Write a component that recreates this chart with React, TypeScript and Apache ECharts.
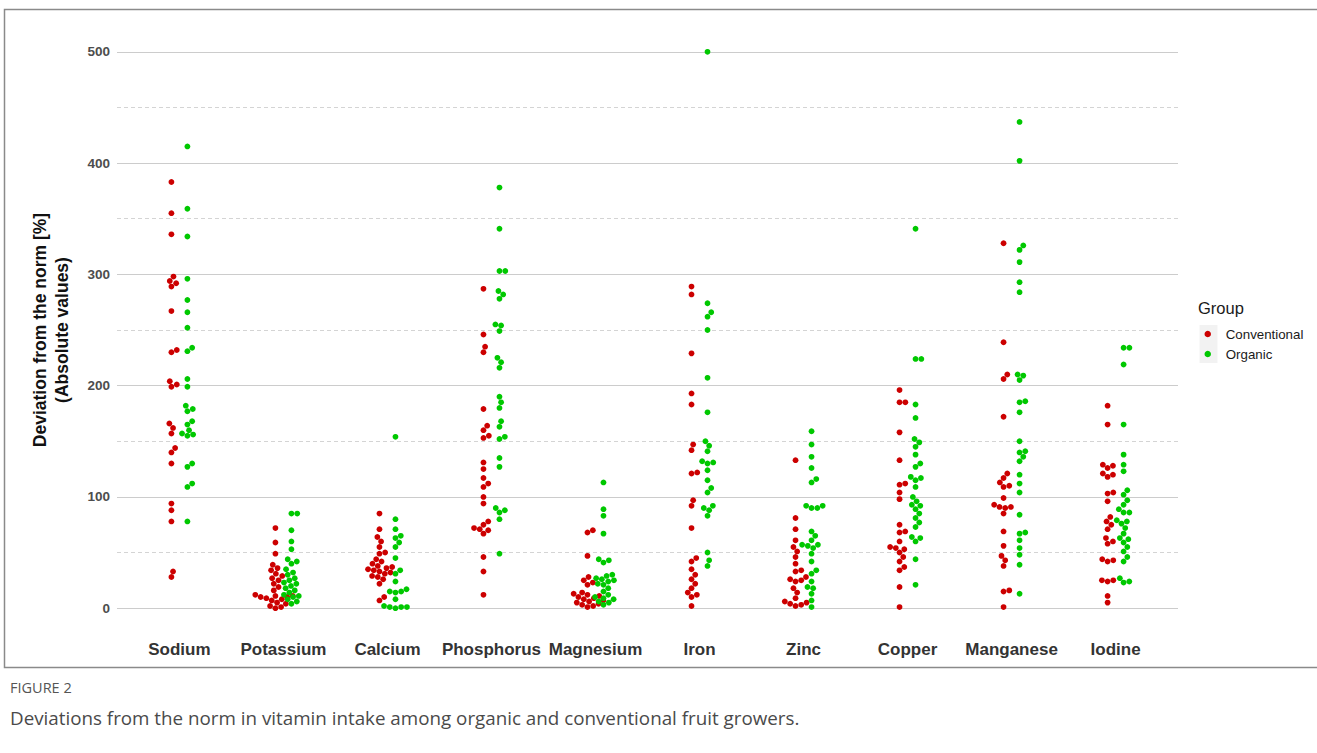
import React, { useEffect, useRef } from 'react';
import * as echarts from 'echarts';

// ---------------- data ----------------
const CATEGORIES = ['Sodium', 'Potassium', 'Calcium', 'Phosphorus', 'Magnesium', 'Iron', 'Zinc', 'Copper', 'Manganese', 'Iodine'];
const GROUPS = ['Conventional', 'Organic'];
const Y_TICKS = [0, 100, 200, 300, 400, 500];
const Y_MINOR = [50, 150, 250, 350, 450];

const sodiumConv = [383, 355, 336, 298, 294, 292, 289, 267, 232, 230, 204, 201, 199, 166, 162, 157, 144, 140, 130, 94, 88, 78, 33, 28];
const sodiumOrg = [415, 359, 334, 296, 277, 266, 252, 234, 231, 206, 199, 182, 179, 177, 168, 165, 160, 157, 156, 155, 130, 127, 112, 109, 78];
const potassiumConv = [72, 59, 49, 39, 36, 34, 31, 29, 27, 25, 22, 19, 16, 12, 11, 11, 10, 10, 9, 8, 7, 5, 4, 2, 1, 0];
const potassiumOrg = [85, 85, 70, 60, 53, 44, 42, 40, 35, 32, 30, 27, 25, 23, 22, 20, 18, 16, 14, 12, 11, 10, 8, 6, 4];
const calciumConv = [85, 71, 64, 60, 55, 50, 49, 44, 42, 40, 38, 37, 36, 35, 34, 33, 32, 31, 29, 28, 26, 22, 10, 7];
const calciumOrg = [154, 80, 71, 65, 63, 59, 55, 45, 34, 31, 24, 17, 15, 15, 14, 8, 2, 1, 1, 1, 0];
const phosphorusConv = [287, 246, 235, 230, 179, 164, 160, 155, 153, 131, 125, 117, 112, 109, 100, 94, 78, 75, 72, 71, 70, 67, 46, 33, 12];
const phosphorusOrg = [378, 341, 303, 303, 285, 282, 278, 255, 254, 249, 225, 221, 216, 190, 185, 180, 168, 163, 154, 152, 135, 127, 90, 88, 86, 80, 49];
const magnesiumConv = [70, 68, 47, 28, 25, 23, 21, 14, 13, 12, 11, 10, 9, 8, 7, 6, 5, 4, 3, 2, 1];
const magnesiumOrg = [113, 89, 83, 67, 44, 43, 41, 30, 29, 27, 26, 25, 24, 22, 21, 18, 15, 12, 10, 9, 8, 6, 5, 3];
const ironConv = [289, 282, 229, 193, 183, 147, 142, 122, 121, 97, 92, 72, 45, 42, 35, 30, 26, 22, 18, 14, 12, 10, 2];
const ironOrg = [500, 274, 266, 262, 250, 207, 176, 150, 146, 141, 132, 131, 130, 124, 115, 108, 104, 92, 90, 88, 83, 50, 43, 38];
const zincConv = [133, 81, 71, 61, 55, 51, 46, 40, 34, 33, 28, 26, 25, 24, 18, 14, 9, 6, 5, 4, 3, 2];
const zincOrg = [159, 147, 136, 126, 116, 113, 92, 92, 90, 90, 69, 65, 61, 57, 57, 56, 54, 49, 42, 34, 31, 24, 19, 18, 13, 7, 1];
const copperConv = [196, 185, 185, 158, 133, 112, 111, 104, 98, 75, 69, 68, 60, 55, 54, 53, 50, 46, 42, 37, 34, 19, 1];
const copperOrg = [341, 224, 224, 183, 171, 152, 149, 145, 138, 130, 127, 118, 117, 115, 109, 100, 96, 93, 92, 89, 85, 81, 77, 73, 64, 63, 60, 44, 21];
const manganeseConv = [328, 239, 210, 206, 172, 121, 117, 113, 110, 109, 99, 93, 91, 91, 90, 85, 69, 56, 47, 43, 38, 16, 15, 1];
const manganeseOrg = [437, 402, 326, 322, 311, 293, 284, 210, 209, 205, 186, 185, 176, 150, 141, 140, 136, 132, 120, 112, 104, 84, 68, 67, 61, 54, 48, 39, 13];
const iodineConv = [182, 165, 129, 128, 126, 121, 120, 118, 104, 103, 96, 82, 78, 75, 71, 63, 60, 58, 44, 43, 42, 25, 25, 24, 11, 5];
const iodineOrg = [234, 234, 219, 165, 138, 129, 123, 106, 102, 97, 93, 89, 86, 86, 79, 78, 76, 72, 67, 63, 62, 59, 55, 51, 46, 42, 27, 24, 23];

const conventionalValues = [sodiumConv, potassiumConv, calciumConv, phosphorusConv, magnesiumConv, ironConv, zincConv, copperConv, manganeseConv, iodineConv];
const organicValues = [sodiumOrg, potassiumOrg, calciumOrg, phosphorusOrg, magnesiumOrg, ironOrg, zincOrg, copperOrg, manganeseOrg, iodineOrg];

// ---------------- layout ----------------
const W = 1317;
const H = 753;
const GRID_LEFT = 117;
const GRID_RIGHT_EDGE = 1178;
const GRID_TOP = 24;
const GRID_BOTTOM_EDGE = 636;
const X_MIN = -0.6;
const X_MAX = 9.6;
const Y_MIN = -25;
const Y_MAX = 525;
const DODGE_PX = 8;
const DOT = 5.8;
const RED = '#cc0000';
const GREEN = '#00c800';

const KX = (GRID_RIGHT_EDGE - GRID_LEFT) / (X_MAX - X_MIN);
const KY = (GRID_BOTTOM_EDGE - GRID_TOP) / (Y_MAX - Y_MIN);

// beeswarm: horizontal pixel offsets so that dots do not overlap
function swarm(values: number[], d: number): number[] {
  const order = values.map((v, i) => i).sort((a, b) => values[a] - values[b]);
  const placed: { x: number; y: number }[] = [];
  const out: number[] = new Array(values.length).fill(0);
  for (const idx of order) {
    const y = values[idx] * KY;
    const cands: number[] = [0];
    for (const p of placed) {
      const dy = y - p.y;
      if (Math.abs(dy) < d) {
        const dx = Math.sqrt(d * d - dy * dy);
        cands.push(p.x + dx, p.x - dx);
      }
    }
    cands.sort((a, b) => Math.abs(a) - Math.abs(b) || b - a);
    let chosen = 0;
    for (const c of cands) {
      let ok = true;
      for (const p of placed) {
        const ddx = c - p.x;
        const ddy = y - p.y;
        if (ddx * ddx + ddy * ddy < d * d - 1e-6) {
          ok = false;
          break;
        }
      }
      if (ok) {
        chosen = c;
        break;
      }
    }
    placed.push({ x: chosen, y });
    out[idx] = chosen;
  }
  return out;
}

function buildData(groups: number[][], dodge: number) {
  const data: number[][] = [];
  groups.forEach((vals, i) => {
    const offs = swarm(vals, DOT);
    vals.forEach((v, j) => {
      data.push([i + (dodge + offs[j]) / KX, v]);
    });
  });
  return data;
}

export default function App() {
  const ref = useRef<HTMLDivElement>(null);

  useEffect(() => {
    if (!ref.current) return;
    const chart = echarts.init(ref.current, undefined, { renderer: 'svg' });
    const sans = '"Liberation Sans", Arial, sans-serif';
    const option: any = {
      animation: false,
      backgroundColor: '#ffffff',
      grid: {
        left: GRID_LEFT,
        right: W - GRID_RIGHT_EDGE,
        top: GRID_TOP,
        bottom: H - GRID_BOTTOM_EDGE,
        containLabel: false,
      },
      xAxis: {
        type: 'value',
        min: X_MIN,
        max: X_MAX,
        interval: 0.2,
        axisLine: { show: false },
        axisTick: { show: false },
        splitLine: { show: false },
        axisLabel: {
          margin: 5,
          fontFamily: sans,
          fontSize: 17,
          fontWeight: 'bold',
          color: '#333333',
          formatter: (v: number) => {
            const r = Math.round(v);
            return Math.abs(v - r) < 1e-6 && r >= 0 && r < CATEGORIES.length ? CATEGORIES[r] : '';
          },
        },
      },
      yAxis: {
        type: 'value',
        min: Y_MIN,
        max: Y_MAX,
        interval: 25,
        axisLine: { show: false },
        axisTick: { show: false },
        splitLine: { show: false },
        axisLabel: {
          margin: 7,
          fontFamily: sans,
          fontSize: 13.5,
          fontWeight: 'bold',
          color: '#4d4d4d',
          formatter: (v: number) => (Y_TICKS.indexOf(Math.round(v)) >= 0 && Math.abs(v - Math.round(v)) < 1e-6 ? String(Math.round(v)) : ''),
        },
      },
      legend: {
        data: GROUPS,
        orient: 'vertical',
        left: 1204.5,
        top: 325,
        padding: 0,
        itemGap: 2,
        itemWidth: 26,
        itemHeight: 6.5,
        icon: 'circle',
        textStyle: { fontFamily: sans, fontSize: 13.3, color: '#1a1a1a', lineHeight: 18 },
      },
      series: [
        {
          name: 'grid',
          type: 'line',
          data: [],
          silent: true,
          z: 1,
          markLine: {
            silent: true,
            symbol: ['none', 'none'],
            label: { show: false },
            animation: false,
            data: [
              ...Y_TICKS.map((v) => ({ yAxis: v, lineStyle: { color: '#cccccc', width: 1, type: 'solid' } })),
              ...Y_MINOR.map((v) => ({ yAxis: v, lineStyle: { color: '#d4d4d4', width: 1, type: [4, 3] } })),
            ],
          },
        },
        {
          name: 'Conventional',
          type: 'scatter',
          z: 10,
          symbol: 'circle',
          symbolSize: DOT,
          itemStyle: { color: RED, opacity: 1 },
          data: buildData(conventionalValues, -DODGE_PX),
        },
        {
          name: 'Organic',
          type: 'scatter',
          z: 10,
          symbol: 'circle',
          symbolSize: DOT,
          itemStyle: { color: GREEN, opacity: 1 },
          data: buildData(organicValues, DODGE_PX),
        },
      ],
      graphic: [
        {
          type: 'rect',
          silent: true,
          z: -10,
          shape: { x: 4.5, y: 9.5, width: 1340, height: 658 },
          style: { fill: 'transparent', stroke: '#8a8a8a', lineWidth: 1.5 },
        },
        {
          type: 'rect',
          silent: true,
          z: -5,
          shape: { x: 1199.5, y: 325, width: 18, height: 38 },
          style: { fill: '#f2f2f2' },
        },
        {
          type: 'text',
          x: 51,
          y: 330,
          rotation: Math.PI / 2,
          style: {
            text: 'Deviation from the norm [%]\n(Absolute values)',
            font: 'bold 17.5px ' + sans,
            fill: '#111111',
            textAlign: 'center',
            textVerticalAlign: 'middle',
            lineHeight: 22,
          },
        },
        {
          type: 'text',
          x: 1198,
          y: 308,
          style: { text: 'Group', font: '16.5px ' + sans, fill: '#1a1a1a', textAlign: 'left', textVerticalAlign: 'middle' },
        },
        {
          type: 'text',
          x: 10,
          y: 687,
          style: { text: 'FIGURE 2', font: '14.5px "Open Sans", sans-serif', fill: '#555555', textAlign: 'left', textVerticalAlign: 'middle' },
        },
        {
          type: 'text',
          x: 10,
          y: 718,
          style: {
            text: 'Deviations from the norm in vitamin intake among organic and conventional fruit growers.',
            font: '18.8px "Open Sans", sans-serif',
            fill: '#4a4a4a',
            textAlign: 'left',
            textVerticalAlign: 'middle',
          },
        },
      ],
    };
    chart.setOption(option);
    return () => {
      chart.dispose();
    };
  }, []);

  return <div ref={ref} style={{ position: 'absolute', left: 0, top: 0, width: W, height: H }} />;
}
